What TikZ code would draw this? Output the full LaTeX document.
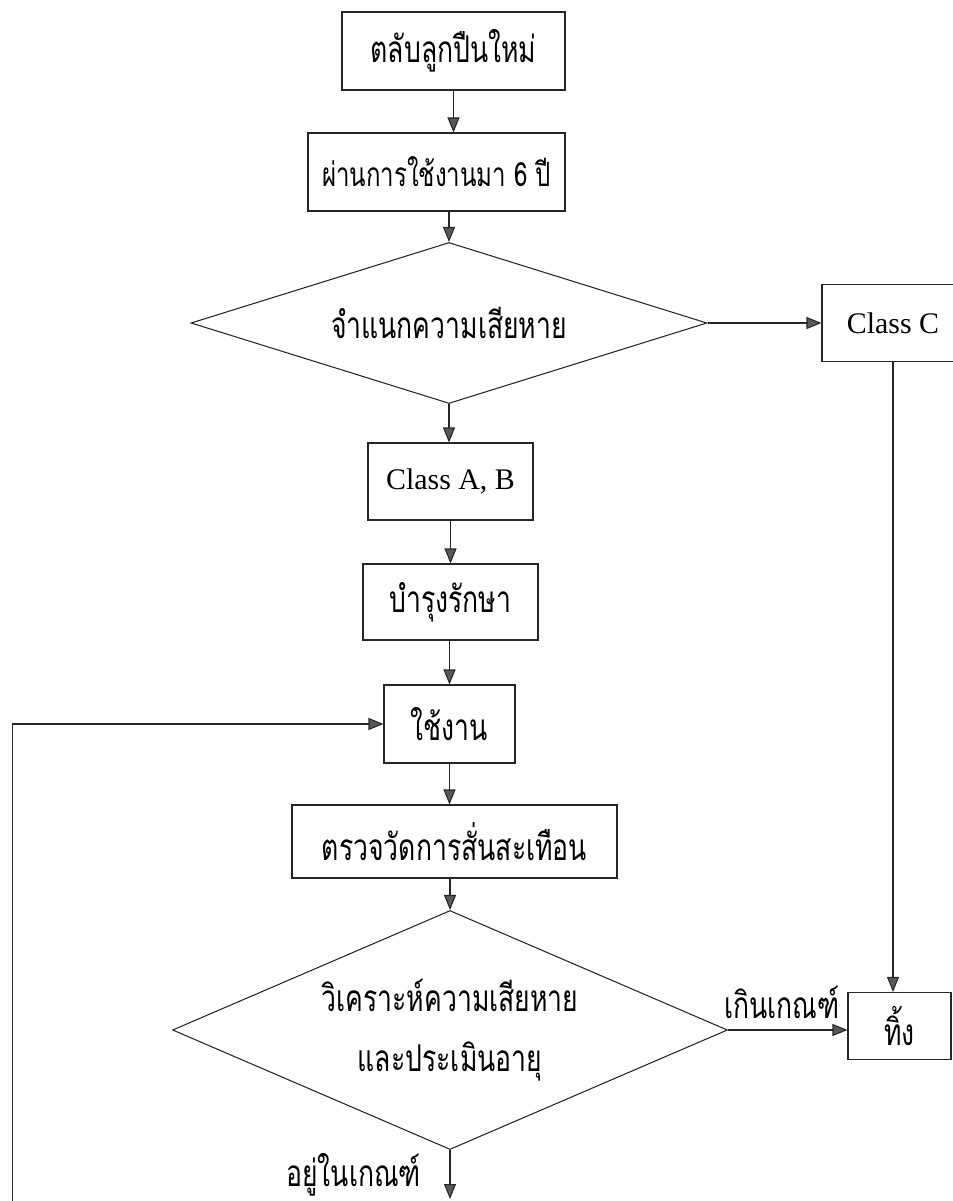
\documentclass[tikz,border=0pt]{standalone}
\usepackage{fontspec}
\setmainfont{Liberation Serif}
\newfontfamily\thaifont[Script=Thai,FakeStretch=0.72]{Loma}
\usetikzlibrary{shapes.geometric,arrows.meta}
\begin{document}
\begin{tikzpicture}[
        box/.style = {draw = black!85, line width = 0.6pt, inner sep = 0pt, font = \thaifont\fontsize{21}{25}\selectfont},
        latinbox/.style = {box, font = \fontsize{17}{20}\selectfont},
        decision/.style = {draw = black!85, diamond, line width = 0.6pt, inner sep = 0pt, align = center, font = \thaifont\fontsize{21}{25}\selectfont},
        arr/.style = {-{Triangle[length = 3mm, width = 2.4mm, fill = black!65]}, draw = black!85, line width = 0.6pt},
        lbl/.style = {font = \thaifont\fontsize{21}{25}\selectfont, inner sep = 2pt}
    ]
    \useasboundingbox (0,0) rectangle (19.04,-24.02);

    % main column
    \node[box, minimum width = 4.46cm, minimum height = 1.56cm] (newbrg) at (9.07,-1.02) {ตลับลูกปืนใหม่};
    \node[box, font = \thaifont\fontsize{19}{23}\selectfont, minimum width = 5.14cm, minimum height = 1.56cm] (sixyr) at (8.73,-3.44) {ผ่านการใช้งานมา 6 ปี};
    \node[decision, aspect = 3.2, minimum width = 10.32cm, minimum height = 3.22cm] (classify) at (8.98,-6.46) {จำแนกความเสียหาย};
    \node[latinbox, minimum width = 3.30cm, minimum height = 1.54cm] (classab) at (9.01,-9.63) {Class A, B};
    \node[box, minimum width = 3.50cm, minimum height = 1.52cm] (maint) at (9.01,-12.04) {บำรุงรักษา};
    \node[box, minimum width = 2.62cm, minimum height = 1.56cm] (inuse) at (8.99,-14.48) {ใช้งาน};
    \node[box, minimum width = 6.50cm, minimum height = 1.46cm] (measure) at (9.09,-16.83) {ตรวจวัดการสั่นสะเทือน};
    \node[decision, aspect = 2.32, minimum width = 11.1cm, minimum height = 4.78cm] (assess) at (9.0,-20.6) {วิเคราะห์ความเสียหาย\\[9pt]และประเมินอายุ};

    % right column
    \node[latinbox, minimum width = 2.84cm, minimum height = 1.54cm] (classc) at (17.86,-6.46) {Class C};
    \node[box, minimum width = 2.06cm, minimum height = 1.34cm] (discard) at (17.99,-20.52) {ทิ้ง};

    \coordinate (cut) at (9.0,-23.98);
    \coordinate (loopstart) at (0.25,-24.02);

    % connectors
    \draw[arr] (newbrg.south) -- (newbrg.south |- sixyr.north);
    \draw[arr] (classify.north |- sixyr.south) -- (classify.north);
    \draw[arr] (classify.east) -- (classc.west);
    \draw[arr] (classify.south) -- (classify.south |- classab.north);
    \draw[arr] (classab.south) -- (classab.south |- maint.north);
    \draw[arr] (inuse.north |- maint.south) -- (inuse.north);
    \draw[arr] (inuse.south) -- (inuse.south |- measure.north);
    \draw[arr] (assess.north |- measure.south) -- (assess.north);
    \draw[arr] (assess.east) -- (assess.east -| discard.west) node[lbl, pos = 0.45, above = 4pt] {เกินเกณฑ์};
    \draw[arr] (classc.south) -- (classc.south |- discard.north);
    \draw[arr] (assess.south) -- (cut) node[lbl, midway, left = 0.5cm] {อยู่ในเกณฑ์};
    \draw[arr] (loopstart) |- (inuse.west);
\end{tikzpicture}
\end{document}
